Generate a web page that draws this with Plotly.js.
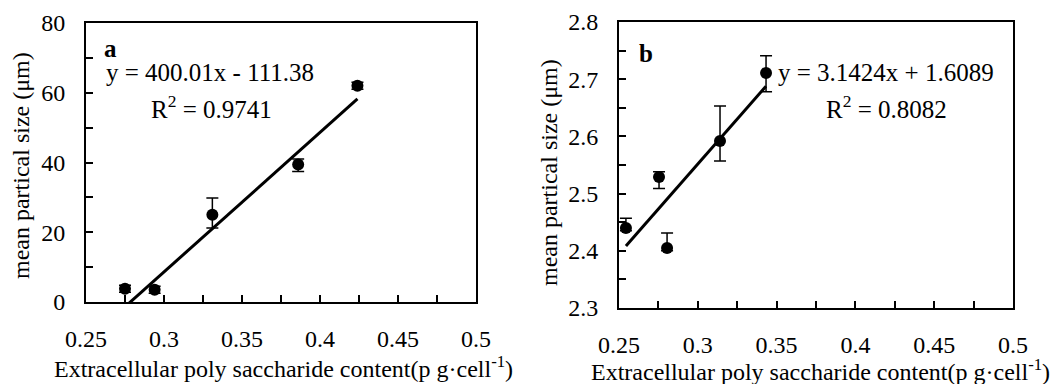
<!DOCTYPE html>
<html>
<head>
<meta charset="utf-8">
<script src="https://cdn.plot.ly/plotly-3.0.1.min.js"></script>
<style>html,body{margin:0;padding:0;background:#fff}#chart{width:1058px;height:384px}</style>
</head>
<body>
<div id="chart"></div>
<script>
// Panel a
const xA = [0.275, 0.294, 0.331, 0.386, 0.424];
const yA = [3.8, 3.5, 25.0, 39.4, 62.0];
const errAplus = [1.0, 1.0, 4.8, 1.6, 1.0];
const errAminus = [1.0, 1.0, 3.8, 2.0, 1.0];
const slopeA = 400.01, interceptA = -111.38, r2A = '0.9741';
// Panel b
const xB = [0.2544, 0.2754, 0.2805, 0.3141, 0.3433];
const yB = [2.44, 2.529, 2.405, 2.592, 2.711];
const errBplus = [0.017, 0.009, 0.026, 0.061, 0.030];
const errBminus = [0.005, 0.020, 0.005, 0.035, 0.033];
const slopeB = 3.1424, interceptB = 1.6089, r2B = '0.8082';

const xTitle = 'Extracellular poly saccharide content(p g·cell<sup>-1</sup>)';
const yTitle = 'mean partical size (μm)';

const FONT = "'Liberation Serif', 'Times New Roman', serif";
const W = 1058, H = 384;
const px = v => v / W, py = v => 1 - v / H;

function fitLine(xs, m, b) {
  const lo = Math.min(...xs), hi = Math.max(...xs);
  return {x: [lo, hi], y: [m * lo + b, m * hi + b]};
}
const fA = fitLine(xA, slopeA, interceptA);
const fB = fitLine(xB, slopeB, interceptB);

const pts = (x, y, ep, em, xa, ya) => ({
  x: x, y: y, type: 'scatter', mode: 'markers', xaxis: xa, yaxis: ya,
  marker: {color: 'black', size: 12},
  error_y: {type: 'data', symmetric: false, array: ep, arrayminus: em,
            color: 'black', thickness: 1.5, width: 6},
  showlegend: false, hoverinfo: 'skip'
});
const line = (f, xa, ya) => ({
  x: f.x, y: f.y, type: 'scatter', mode: 'lines', xaxis: xa, yaxis: ya,
  line: {color: 'black', width: 3}, showlegend: false, hoverinfo: 'skip'
});

const data = [
  line(fA, 'x', 'y'), pts(xA, yA, errAplus, errAminus, 'x', 'y'),
  line(fB, 'x2', 'y2'), pts(xB, yB, errBplus, errBminus, 'x2', 'y2')
];

const minorTicks = d => ({dtick: d, ticks: 'inside', ticklen: 7, tickwidth: 2, tickcolor: 'black', showgrid: false});
const axBase = {
  showline: true, mirror: true, linecolor: 'black', linewidth: 2,
  ticks: 'inside', ticklen: 7, tickwidth: 2, tickcolor: 'black',
  showgrid: false, zeroline: false, fixedrange: true,
  tickfont: {family: FONT, size: 24, color: 'black'}
};
const xAx = (dom, anchor) => Object.assign({}, axBase, {
  domain: dom, anchor: anchor, range: [0.25, 0.5], tick0: 0.25, dtick: 0.05,
  ticklabelstandoff: 14,
  minor: Object.assign({tick0: 0.25}, minorTicks(0.025))
});

const layout = {
  width: W, height: H, margin: {l: 0, r: 0, t: 0, b: 0},
  paper_bgcolor: 'white', plot_bgcolor: 'white',
  font: {family: FONT, color: 'black'},
  xaxis: xAx([px(86), px(476)], 'y'),
  yaxis: Object.assign({}, axBase, {
    domain: [py(302), py(23)], anchor: 'x', range: [0, 80], dtick: 20, ticklabelstandoff: 14,
    minor: minorTicks(10)
  }),
  xaxis2: xAx([px(619), px(1013)], 'y2'),
  yaxis2: Object.assign({}, axBase, {
    domain: [py(308), py(22)], anchor: 'x2', range: [2.3, 2.8], dtick: 0.1, ticklabelstandoff: 14,
    minor: minorTicks(0.05)
  }),
  annotations: [
    {text: '<b>a</b>', x: px(110), y: py(49), size: 25},
    {text: 'y = ' + slopeA + 'x - ' + Math.abs(interceptA), x: px(210), y: py(72), size: 25},
    {text: 'R<sup>2</sup> = ' + r2A, x: px(211), y: py(107), size: 25},
    {text: '<b>b</b>', x: px(646), y: py(53), size: 25},
    {text: 'y = ' + slopeB + 'x + ' + interceptB, x: px(886), y: py(73), size: 25},
    {text: 'R<sup>2</sup> = ' + r2B, x: px(886), y: py(107), size: 25},
    {text: xTitle, x: px(283), y: py(367), size: 24},
    {text: xTitle, x: px(820), y: py(370), size: 24},
    {text: yTitle, x: px(21), y: py(166), textangle: -90, size: 24},
    {text: yTitle, x: px(549), y: py(173), textangle: -90, size: 24}
  ].map(a => ({
    xref: 'paper', yref: 'paper', showarrow: false, xanchor: 'center', yanchor: 'middle',
    text: a.text, x: a.x, y: a.y, textangle: a.textangle || 0,
    font: {family: FONT, size: a.size, color: 'black'}
  }))
};

Plotly.newPlot('chart', data, layout, {staticPlot: true, displayModeBar: false});
</script>
</body>
</html>
